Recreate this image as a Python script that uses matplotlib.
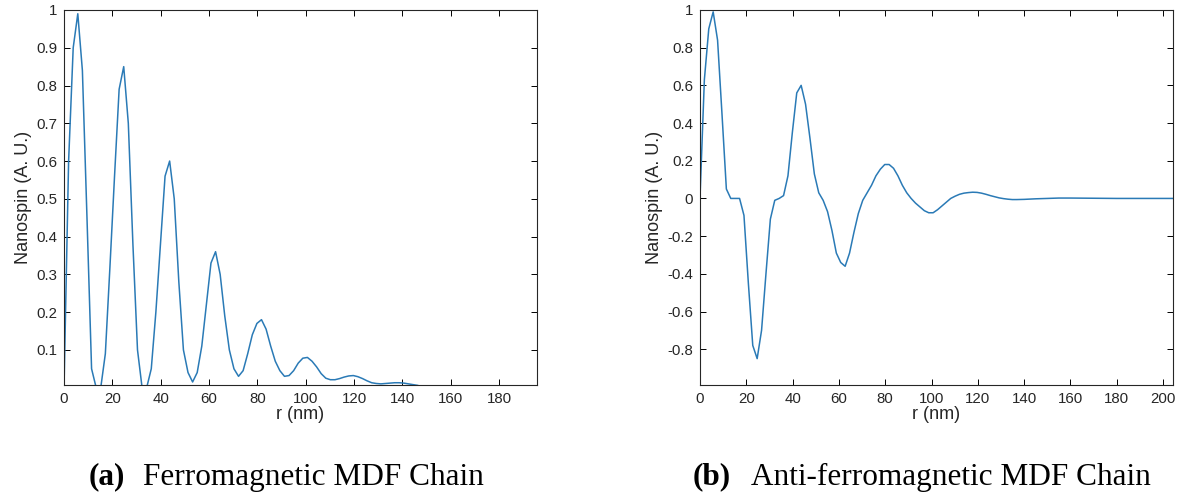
import matplotlib
matplotlib.use("Agg")
import matplotlib.pyplot as plt
from matplotlib.ticker import FuncFormatter

# ferromagnetic chain (left panel)
r_fm = [0, 1.9, 3.8, 5.7, 7.6, 9.5, 11.4, 13.3, 15.2, 17.1, 19.0, 20.9, 22.8, 24.7,
        26.6, 28.5, 30.4, 32.3, 34.2, 36.1, 38.0, 39.9, 41.8, 43.7, 45.6, 47.5, 49.4,
        51.3, 53.2, 55.1, 57.0, 58.9, 60.8, 62.7, 64.6, 66.5, 68.4, 70.3, 72.2, 74.1,
        76.0, 77.9, 79.8, 81.7, 83.6, 85.5, 87.4, 89.3, 91.2, 93.1, 95.0, 96.9, 98.8,
        100.7, 102.6, 104.5, 106.4, 108.3, 110.2, 112.1, 114.0, 115.9, 117.8, 119.7,
        121.6, 123.5, 125.4, 127.3, 129.2, 131.1, 133.0, 134.9, 136.8, 138.7, 140.6,
        142.5, 144.4, 146.3]
spin_fm = [0.0, 0.6, 0.9, 0.99, 0.84, 0.45, 0.05, 0.0, 0.0, 0.09, 0.32, 0.56, 0.79, 0.85,
           0.70, 0.38, 0.10, 0.0, 0.0, 0.05, 0.20, 0.38, 0.56, 0.60, 0.50, 0.28, 0.10,
           0.04, 0.015, 0.04, 0.11, 0.22, 0.33, 0.36, 0.30, 0.19, 0.10, 0.05, 0.03, 0.045,
           0.09, 0.14, 0.17, 0.18, 0.155, 0.11, 0.07, 0.045, 0.03, 0.032, 0.045, 0.065, 0.078,
           0.08, 0.07, 0.055, 0.037, 0.025, 0.021, 0.021, 0.024, 0.028, 0.031, 0.032,
           0.029, 0.024, 0.018, 0.013, 0.011, 0.010, 0.011, 0.012, 0.013, 0.013, 0.012,
           0.010, 0.008, 0.006]

# anti-ferromagnetic chain (right panel)
r_afm = [0, 1.9, 3.8, 5.7, 7.6, 9.5, 11.4, 13.3, 15.2, 17.1, 19.0, 20.9, 22.8, 24.7,
         26.6, 28.5, 30.4, 32.3, 34.2, 36.1, 38.0, 39.9, 41.8, 43.7, 45.6, 47.5, 49.4,
         51.3, 53.2, 55.1, 57.0, 58.9, 60.8, 62.7, 64.6, 66.5, 68.4, 70.3, 72.2, 74.1,
         76.0, 77.9, 79.8, 81.7, 83.6, 85.5, 87.4, 89.3, 91.2, 93.1, 95.0, 96.9, 98.8,
         100.7, 102.6, 104.5, 106.4, 108.3, 110.2, 112.1, 114.0, 115.9, 117.8, 119.7,
         121.6, 123.5, 125.4, 127.3, 129.2, 131.1, 133.0, 134.9, 136.8, 140, 145, 150,
         155, 160, 170, 180, 190, 204]
spin_afm = [0.0, 0.63, 0.90, 0.99, 0.84, 0.45, 0.05, 0.0, 0.0, 0.0, -0.09, -0.45, -0.78,
            -0.85, -0.70, -0.40, -0.11, -0.01, 0.0, 0.015, 0.12, 0.35, 0.56, 0.60, 0.50,
            0.32, 0.13, 0.03, -0.01, -0.07, -0.17, -0.29, -0.34, -0.36, -0.29, -0.18,
            -0.08, -0.01, 0.03, 0.07, 0.12, 0.155, 0.18, 0.18, 0.16, 0.12, 0.07, 0.03, 0.0,
            -0.025, -0.045, -0.065, -0.076, -0.076, -0.06, -0.04, -0.02, 0.0, 0.012,
            0.022, 0.028, 0.031, 0.033, 0.032, 0.028, 0.022, 0.015, 0.009, 0.003, -0.001,
            -0.004, -0.006, -0.006, -0.005, -0.002, 0.0, 0.002, 0.002, 0.001, 0.0, 0.0, 0.0]

fm_xticks = [0, 20, 40, 60, 80, 100, 120, 140, 160, 180]
fm_yticks = [0.1, 0.2, 0.3, 0.4, 0.5, 0.6, 0.7, 0.8, 0.9, 1]
afm_xticks = [0, 20, 40, 60, 80, 100, 120, 140, 160, 180, 200]
afm_yticks = [-0.8, -0.6, -0.4, -0.2, 0, 0.2, 0.4, 0.6, 0.8, 1]

line_color = "#2a7ab6"
plt.rcParams["font.family"] = ["Liberation Sans", "DejaVu Sans"]

fig = plt.figure(figsize=(11.79, 5.04), dpi=100)
ax1 = fig.add_axes([0.0543, 0.2361, 0.4012, 0.7441])
ax2 = fig.add_axes([0.5937, 0.2361, 0.4012, 0.7441])

fmt = FuncFormatter(lambda v, p: f"{v:g}")

for ax, r, s, xt, yt, xl, yl in [
    (ax1, r_fm, spin_fm, fm_xticks, fm_yticks, (0, 195.7), (0.007, 1)),
    (ax2, r_afm, spin_afm, afm_xticks, afm_yticks, (0, 204.3), (-0.99, 1)),
]:
    ax.plot(r, s, color=line_color, linewidth=1.1)
    ax.set_xlim(*xl)
    ax.set_ylim(*yl)
    ax.set_xticks(xt)
    ax.set_yticks(yt)
    ax.xaxis.set_major_formatter(fmt)
    ax.yaxis.set_major_formatter(fmt)
    ax.tick_params(direction="in", top=True, right=True, length=4, width=0.7,
                   labelsize=10.8, labelcolor="#262626", pad=5)
    for sp in ax.spines.values():
        sp.set_linewidth(0.8)
        sp.set_color("#262626")
    ax.set_xlabel("r (nm)", fontsize=13, color="#262626", labelpad=0)
    ax.set_ylabel("Nanospin (A. U.)", fontsize=13, color="#262626", labelpad=3)

cap_y = 1 - 477 / 504
fig.text(89 / 1179, cap_y, "(a)", family="Liberation Serif", fontweight="bold",
         fontsize=22.5, ha="left", va="center")
fig.text(143 / 1179, cap_y, "Ferromagnetic MDF Chain", family="Liberation Serif",
         fontsize=22.5, ha="left", va="center")
fig.text(693 / 1179, cap_y, "(b)", family="Liberation Serif", fontweight="bold",
         fontsize=22.5, ha="left", va="center")
fig.text(751 / 1179, cap_y, "Anti-ferromagnetic MDF Chain", family="Liberation Serif",
         fontsize=22.5, ha="left", va="center")

fig.savefig("out.png", dpi=100)
